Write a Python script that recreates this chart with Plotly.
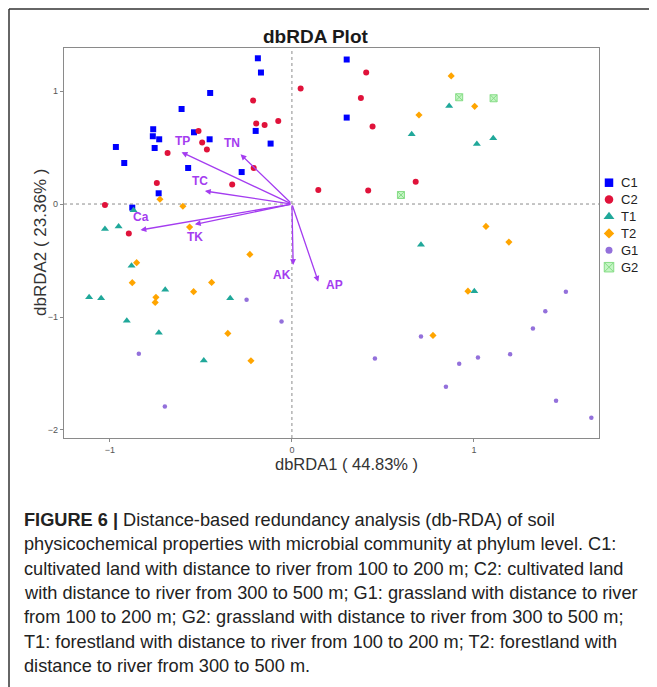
import plotly.graph_objects as go

# ---------------- data ----------------
groups = ["C1", "C2", "T1", "T2", "G1", "G2"]

c1_x = [-0.187, -0.170, -0.449, -0.606, -0.762, -0.764, -0.729, -0.754, -0.967, -0.921,
        -0.538, -0.452, -0.199, -0.117, -0.570, -0.276, -0.732, -0.877, 0.301, 0.301]
c1_y = [1.290, 1.164, 0.983, 0.841, 0.662, 0.600, 0.573, 0.496, 0.505, 0.363,
        0.635, 0.573, 0.647, 0.535, 0.319, 0.283, 0.095, -0.032, 1.279, 0.765]

c2_x = [-0.213, -0.196, -0.150, -0.075, -0.513, -0.493, -0.467, -0.683, -0.210, -0.328,
        -0.742, -1.027, -0.896, 0.408, 0.048, 0.379, 0.443, 0.680, 0.145, 0.419]
c2_y = [0.916, 0.712, 0.700, 0.735, 0.647, 0.544, 0.482, 0.452, 0.319, 0.172,
        0.186, -0.009, -0.262, 1.164, 1.022, 0.939, 0.686, 0.198, 0.124, 0.119]

t1_x = [-0.870, -1.027, -0.952, -0.881, -1.114, -1.048, -0.696, -0.907, -0.731, -0.339,
        -0.484, 0.864, 0.658, 1.016, 1.106, 0.709, 1.002]
t1_y = [-0.056, -0.221, -0.198, -0.546, -0.826, -0.835, -0.758, -1.033, -1.139, -0.833,
        -1.384, 0.868, 0.617, 0.531, 0.582, -0.360, -0.771]

t2_x = [-0.725, -0.599, -0.562, -0.231, -0.853, -0.877, -0.441, -0.540, -0.747, -0.751,
        -0.352, -0.225, 0.875, 1.004, 0.698, 1.066, 1.192, 0.967, 0.775]
t2_y = [0.042, -0.020, -0.204, -0.446, -0.519, -0.696, -0.694, -0.776, -0.826, -0.871,
        -1.145, -1.387, 1.134, 0.865, 0.788, -0.198, -0.337, -0.771, -1.163]

g1_x = [-0.249, -0.057, -0.841, -0.698, 1.505, 1.392, 1.324, 0.709, 0.456, 1.199,
        1.022, 0.919, 0.846, 1.451, 1.645]
g1_y = [-0.847, -1.039, -1.325, -1.792, -0.776, -0.948, -1.101, -1.172, -1.367, -1.329,
        -1.358, -1.414, -1.617, -1.741, -1.892]

g2_x = [0.919, 1.108, 0.599]
g2_y = [0.945, 0.936, 0.080]

env_names = ["TP", "TN", "TC", "Ca", "TK", "AK", "AP"]
env_x = [-0.606, -0.282, -0.478, -0.832, -0.533, 0.007, 0.145]
env_y = [0.458, 0.440, 0.115, -0.230, -0.180, -0.540, -0.688]

x_ticks = [-1, 0, 1]
y_ticks = [-2, -1, 0, 1]

title_text = "dbRDA Plot"
x_title = "dbRDA1 ( 44.83% )"
y_title = "dbRDA2 ( 23.36% )"

caption_lines = [
    "<b>FIGURE 6 |</b> Distance-based redundancy analysis (db-RDA) of soil",
    "physicochemical properties with microbial community at phylum level. C1:",
    "cultivated land with distance to river from 100 to 200 m; C2: cultivated land",
    "with distance to river from 300 to 500 m; G1: grassland with distance to river",
    "from 100 to 200 m; G2: grassland with distance to river from 300 to 500 m;",
    "T1: forestland with distance to river from 100 to 200 m; T2: forestland with",
    "distance to river from 300 to 500 m.",
]

# ---------------- layout geometry (reference pixel space) ----------------
OFF = 8                      # page body margin of the browser
W, H = 657 - OFF, 687 - OFF  # figure size
PL, PR, PT, PB = 64, 599, 48, 438   # plot panel in reference pixels
XR = [-1.252, 1.687]
YR = [-2.071, 1.381]

ML, MT = PL - OFF, PT - OFF
MB = H - (PB - OFF)
PAPER_W = W - ML
PAPER_H = (PB - PT)


def px(x):
    """reference pixel x -> paper fraction"""
    return (x - OFF - ML) / PAPER_W


def py(y):
    """reference pixel y -> paper fraction"""
    return (PB - y) / PAPER_H


styles = {
    "C1": dict(symbol="square", color="#0000FF", size=6, lc=None),
    "C2": dict(symbol="circle", color="#E0123A", size=6, lc=None),
    "T1": dict(symbol="triangle-up", color="#20A89A", size=7, lc=None),
    "T2": dict(symbol="diamond", color="#FFA500", size=5.5, lc=None),
    "G1": dict(symbol="circle", color="#9370DB", size=4.5, lc=None),
    "G2": dict(symbol="square-x", color="#C4F5C4", size=7, lc="#86DC86"),
}
series = {
    "C1": (c1_x, c1_y), "C2": (c2_x, c2_y), "T1": (t1_x, t1_y),
    "T2": (t2_x, t2_y), "G1": (g1_x, g1_y), "G2": (g2_x, g2_y),
}

ARROW = "#A43CF0"
label_shift = {
    "TP": (1, 11), "TN": (-9, 11), "TC": (-5, 10), "Ca": (1, 13),
    "TK": (0, -13), "AK": (-11, -10), "AP": (16, -3),
}

fig = go.Figure()


def mline(st):
    if st["lc"]:
        return dict(width=1, color=st["lc"])
    return dict(width=0)


for g in groups:
    xs, ys = series[g]
    st = styles[g]
    fig.add_trace(go.Scatter(
        x=xs, y=ys, mode="markers", name=g, showlegend=False,
        marker=dict(symbol=st["symbol"], color=st["color"], size=st["size"], line=mline(st)),
    ))

# custom legend on its own invisible axes (reference pixel space)
for i, g in enumerate(groups):
    st = styles[g]
    yy = 182.7 + 16.9 * i
    fig.add_trace(go.Scatter(
        x=[609], y=[yy], xaxis="x2", yaxis="y2", mode="markers", showlegend=False,
        hoverinfo="skip",
        marker=dict(symbol=st["symbol"], color=st["color"], size=st["size"] + 2.5,
                    line=mline(st)),
    ))
    fig.add_annotation(x=619, y=yy, xref="x2", yref="y2", text=g, showarrow=False,
                       xanchor="left", yanchor="middle",
                       font=dict(family="Liberation Sans, Arial", size=13, color="#222222"))

# zero reference lines (dotted)
fig.add_shape(type="line", xref="x", yref="y domain", x0=0, x1=0, y0=0, y1=1,
              line=dict(color="#8c8c8c", width=1, dash="dot"), layer="below")
fig.add_shape(type="line", xref="x domain", yref="y", x0=0, x1=1, y0=0, y1=0,
              line=dict(color="#8c8c8c", width=1, dash="dot"), layer="below")

# environmental arrows
for name, ex, ey in zip(env_names, env_x, env_y):
    fig.add_annotation(x=ex, y=ey, ax=0, ay=0, xref="x", yref="y", axref="x", ayref="y",
                       text="", showarrow=True, arrowhead=2, arrowsize=0.9,
                       arrowwidth=1.3, arrowcolor=ARROW)
    dx, dy = label_shift[name]
    fig.add_annotation(x=ex, y=ey, xref="x", yref="y", text="<b>%s</b>" % name,
                       showarrow=False, xshift=dx, yshift=dy,
                       font=dict(family="Liberation Sans, Arial", size=12, color=ARROW))

# title
fig.add_annotation(x=px(316), y=py(36), xref="paper", yref="paper", text="<b>%s</b>" % title_text,
                   showarrow=False, xanchor="center", yanchor="middle",
                   font=dict(family="Liberation Sans, Arial", size=19, color="#1a1a1a"))

# axis titles
fig.add_annotation(x=px(346), y=py(464), xref="paper", yref="paper", text=x_title,
                   showarrow=False, xanchor="center", yanchor="middle",
                   font=dict(family="Liberation Sans, Arial", size=16.5, color="#333333"))
fig.add_annotation(x=px(40), y=py(243), xref="paper", yref="paper", text=y_title,
                   showarrow=False, xanchor="center", yanchor="middle", textangle=-90,
                   font=dict(family="Liberation Sans, Arial", size=17, color="#333333"))

# caption
for i, line_text in enumerate(caption_lines):
    fig.add_annotation(x=px(22), y=py(520 + 24.3 * i), xref="paper", yref="paper",
                       text=line_text, showarrow=False, xanchor="left", yanchor="middle",
                       font=dict(family="Liberation Sans, Arial", size=18.2,
                                 color="#222222"))

# outer frame of the figure (left, top, right edges)
frame = dict(color="#333333", width=1.5)
fig.add_shape(type="line", xref="paper", yref="paper", x0=px(9), x1=px(9),
              y0=py(700), y1=py(9), line=frame)
fig.add_shape(type="line", xref="paper", yref="paper", x0=px(9), x1=px(650),
              y0=py(9), y1=py(9), line=frame)
fig.add_shape(type="line", xref="paper", yref="paper", x0=px(650), x1=px(650),
              y0=py(700), y1=py(9), line=frame)

axis_common = dict(showgrid=False, zeroline=False, showline=True, mirror=True,
                   linecolor="#8a8a8a", linewidth=1.2, ticks="outside", ticklen=3,
                   tickcolor="#8a8a8a", tickfont=dict(family="Liberation Sans, Arial",
                                                      size=9, color="#555555"))

fig.update_layout(
    width=W, height=H,
    margin=dict(l=ML, r=0, t=MT, b=MB, autoexpand=False),
    paper_bgcolor="white", plot_bgcolor="white",
    xaxis=dict(domain=[0, px(PR)], range=XR, tickvals=x_ticks, **axis_common),
    yaxis=dict(domain=[0, 1], range=YR, tickvals=y_ticks, **axis_common),
    xaxis2=dict(domain=[px(601), 1], range=[601, 657], visible=False, anchor="y2",
                fixedrange=True),
    yaxis2=dict(domain=[0, 1], range=[PB, PT], visible=False, anchor="x2",
                fixedrange=True),
    showlegend=False,
)

fig.write_html("out.html")
